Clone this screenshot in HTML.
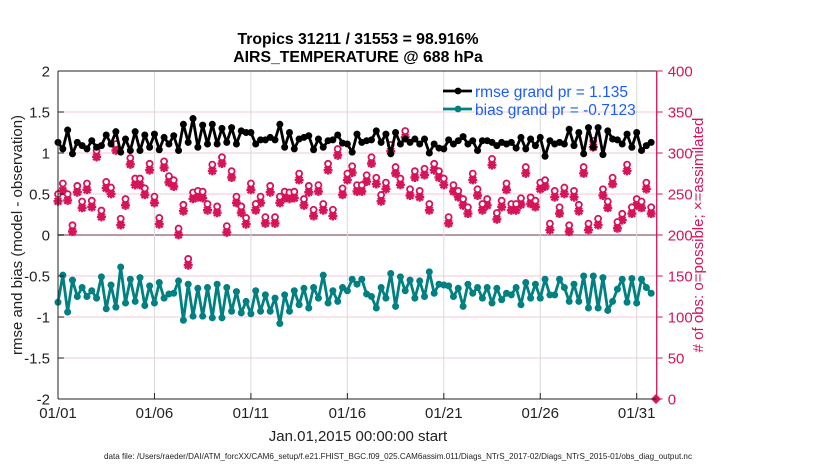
<!DOCTYPE html>
<html><head><meta charset="utf-8"><style>
html,body{margin:0;padding:0;background:#fff;}
svg{display:block;font-family:"Liberation Sans",sans-serif;}
</style></head><body>
<svg id="chart" width="830" height="470" viewBox="0 0 830 470">
<text x="358" y="44" text-anchor="middle" font-size="15.8" font-weight="bold">Tropics 31211 / 31553 = 98.916%</text>
<text x="358" y="62" text-anchor="middle" font-size="15.8" font-weight="bold">AIRS_TEMPERATURE @ 688 hPa</text>
<g id="grid"></g>
<g id="marks"></g>
<g id="axes"></g>
<text transform="translate(22,235) rotate(-90)" text-anchor="middle" font-size="15" fill="#222">rmse and bias (model - observation)</text>
<text transform="translate(703,235) rotate(-90)" text-anchor="middle" font-size="15" fill="#d6145a"># of obs: o=possible; ×=assimilated</text>
<text x="358" y="441" text-anchor="middle" font-size="15" fill="#222">Jan.01,2015 00:00:00 start</text>
<text x="398" y="459" text-anchor="middle" font-size="8.1" fill="#222">data file: /Users/raeder/DAI/ATM_forcXX/CAM6_setup/f.e21.FHIST_BGC.f09_025.CAM6assim.011/Diags_NTrS_2017-02/Diags_NTrS_2015-01/obs_diag_output.nc</text>
<g>
<line x1="443" y1="91" x2="472" y2="91" stroke="#000" stroke-width="2.8"/>
<circle cx="458" cy="91" r="3.4" fill="#000"/>
<text x="475" y="97" font-size="15.5" fill="#1a5cff">rmse grand pr = 1.135</text>
<line x1="443" y1="109" x2="472" y2="109" stroke="#008080" stroke-width="2.8"/>
<circle cx="458" cy="109" r="3.4" fill="#008080"/>
<text x="475" y="115" font-size="15.5" fill="#1a5cff">bias grand pr = -0.7123</text>
</g>
</svg>
<script>
const xTickLabels = ["01/01","01/06","01/11","01/16","01/21","01/26","01/31"];
const xTickDays = [0,5,10,15,20,25,30];
const leftTicks = [2,1.5,1,0.5,0,-0.5,-1,-1.5,-2];
const leftTickLabels = ["2","1.5","1","0.5","0","-0.5","-1","-1.5","-2"];
const rightTicks = [400,350,300,250,200,150,100,50,0];
const rmse = [1.13,1.05,1.28,0.99,1.13,1.09,1.05,1.15,1.07,1.09,1.22,1.11,1.26,1.01,1.17,1.03,1.26,1.03,1.22,1.07,1.23,1.04,1.19,1.11,1.21,1.03,1.35,1.13,1.42,1.07,1.34,1.11,
1.35,1.11,1.30,1.13,1.31,1.11,1.27,1.25,1.25,1.11,1.16,1.16,1.19,1.16,1.35,1.07,1.25,1.05,1.17,1.19,1.21,1.04,1.17,1.07,1.15,1.16,1.22,1.12,1.11,1.01,1.23,1.13,
1.15,1.16,1.27,1.13,1.23,0.99,1.25,1.11,1.17,1.13,1.17,1.11,1.17,1.00,1.11,1.06,1.05,1.16,1.11,1.15,1.20,1.11,1.15,1.03,1.15,1.15,1.13,1.09,1.13,1.11,
1.13,1.06,1.19,1.05,1.17,1.09,1.19,0.96,1.15,1.11,1.13,1.11,1.29,1.09,1.25,0.99,1.31,1.07,1.31,0.98,1.27,1.17,1.16,1.11,1.23,1.07,1.25,1.03,1.09,1.13];
const bias = [-0.82,-0.49,-0.94,-0.55,-0.75,-0.64,-0.75,-0.68,-0.77,-0.51,-0.90,-0.61,-0.88,-0.39,-0.83,-0.54,-0.81,-0.52,-0.86,-0.62,-0.83,-0.58,-0.77,-0.72,-0.71,-0.56,-1.04,-0.60,-0.99,-0.65,-0.99,-0.64,
-1.01,-0.60,-1.01,-0.64,-0.93,-0.69,-0.95,-0.81,-0.96,-0.68,-0.93,-0.73,-0.93,-0.77,-1.08,-0.73,-0.93,-0.68,-0.85,-0.65,-0.89,-0.64,-0.77,-0.49,-0.83,-0.68,-0.81,-0.64,-0.68,-0.54,-0.60,-0.54,
-0.72,-0.75,-0.89,-0.64,-0.77,-0.47,-0.87,-0.51,-0.68,-0.55,-0.77,-0.56,-0.75,-0.45,-0.71,-0.60,-0.61,-0.62,-0.75,-0.65,-0.87,-0.60,-0.71,-0.64,-0.77,-0.64,-0.83,-0.65,-0.79,-0.71,
-0.73,-0.64,-0.85,-0.58,-0.77,-0.60,-0.77,-0.54,-0.73,-0.73,-0.54,-0.64,-0.81,-0.60,-0.81,-0.50,-0.89,-0.50,-0.89,-0.52,-0.92,-0.81,-0.66,-0.54,-0.82,-0.53,-0.83,-0.54,-0.64,-0.71];
const obsPossible = [248,261,248,210,258,239,261,240,301,228,263,256,309,218,242,292,267,267,255,285,245,219,288,270,265,206,235,169,250,252,251,236,
284,233,293,209,276,245,233,219,261,236,245,220,258,220,245,251,250,251,273,242,258,229,259,236,285,229,303,255,273,282,259,259,
271,293,268,247,262,308,281,267,325,254,276,252,279,236,285,276,267,220,259,252,242,232,273,254,236,242,291,225,240,261,
236,236,243,281,244,240,262,265,212,252,232,256,210,252,235,281,212,313,218,254,239,268,214,224,284,232,242,239,262,232,0];
const obsAssim = [243,256,244,206,254,235,257,236,297,224,259,252,305,214,238,288,263,263,251,281,241,215,284,266,261,202,231,165,246,248,247,232,
280,229,289,205,272,241,229,215,257,232,241,216,254,216,241,247,246,247,269,238,254,225,255,232,281,225,299,251,269,278,255,255,
267,289,264,243,258,304,277,263,321,250,272,248,275,232,281,272,263,216,255,248,238,228,269,250,232,238,287,221,236,257,
232,232,239,277,240,236,258,261,208,248,228,252,206,248,231,277,208,309,214,250,235,264,210,220,280,228,238,235,258,228,0];

const NS="http://www.w3.org/2000/svg";
const X0=58, X1=656.7, DAYPX=(636.7-58)/30, Y0=71, Y1=399;
const xScale = d => X0 + d*DAYPX;
const yL = v => Y0 + (2 - v)/4*(Y1-Y0);
const yR = v => Y0 + (400 - v)/400*(Y1-Y0);
function mk(tag, attrs, parent){const e=document.createElementNS(NS,tag);for(const k in attrs)e.setAttribute(k,attrs[k]);parent.appendChild(e);return e;}
const gridG=document.getElementById('grid'), marksG=document.getElementById('marks'), axesG=document.getElementById('axes');

leftTicks.forEach(v=>{
  const y=yL(v);
  const l=mk('line',{x1:X0,x2:X1,y1:y,y2:y,stroke:v===0?'#b89aa6':'#f3c8d8','stroke-width':v===0?2:1},gridG);
  
  
});
xTickDays.forEach(d=>{
  const x=xScale(d);
  const l=mk('line',{x1:x,x2:x,y1:Y0,y2:Y1,stroke:'#d8d8d8','stroke-width':1},gridG);
  
  
});

const tx = i => xScale(i*0.25);
obsAssim.forEach((v,i)=>{
  const x=tx(i), y=yR(v)+1.5;
  const g=mk('g',{},marksG);
  
  
  if(v===0){
    const yy=yR(v);
    mk('path',{d:`M${x} ${yy-5}L${x+5} ${yy}L${x} ${yy+5}L${x-5} ${yy}Z`,fill:'#d6145a'},g);
    return;
  }
  const r=4.5, d=3.3;
  mk('path',{d:`M${x-r} ${y}H${x+r}M${x} ${y-r}V${y+r}M${x-d} ${y-d}L${x+d} ${y+d}M${x-d} ${y+d}L${x+d} ${y-d}`,stroke:'#d6145a','stroke-width':2.4},g);
});
obsPossible.forEach((v,i)=>{
  if(v===0) return;
  const c=mk('circle',{cx:tx(i),cy:yR(v)-1.5,r:3,fill:'#fff',stroke:'#d6145a','stroke-width':1.8},marksG);
  
  
});
function series(vals,color,name){
  const p=mk('polyline',{points:vals.map((v,i)=>tx(i)+','+yL(v)).join(' '),fill:'none',stroke:color,'stroke-width':2.8,'stroke-linejoin':'round'},marksG);
  
  
  vals.forEach((v,i)=>{
    const c=mk('circle',{cx:tx(i),cy:yL(v),r:3.5,fill:color},marksG);
    
    
  });
}
series(bias,'#008080','bias');
series(rmse,'#000000','rmse');

const topBorder=mk('line',{x1:X0,x2:X1,y1:Y0,y2:Y0,stroke:'#222','stroke-width':1},axesG);


const botAxis=mk('line',{x1:X0,x2:X1,y1:Y1,y2:Y1,stroke:'#222','stroke-width':1},axesG);


const leftAxis=mk('line',{x1:X0,x2:X0,y1:Y0,y2:Y1,stroke:'#222','stroke-width':1},axesG);


const rightAxis=mk('line',{x1:X1,x2:X1,y1:Y0,y2:Y1,stroke:'#d6145a','stroke-width':1.3},axesG);


leftTicks.forEach((v,i)=>{
  const y=yL(v);
  mk('line',{x1:X0,x2:X0+6,y1:y,y2:y,stroke:'#222'},axesG);
  const t=mk('text',{x:X0-8,y:y+5.5,'text-anchor':'end','font-size':15,fill:'#222'},axesG);
  t.textContent=leftTickLabels[i];
  
  
});
rightTicks.forEach(v=>{
  const y=yR(v);
  mk('line',{x1:X1,x2:X1+6,y1:y,y2:y,stroke:'#d6145a'},axesG);
  const t=mk('text',{x:X1+11,y:y+5.5,'font-size':15,fill:'#d6145a'},axesG);
  t.textContent=String(v);
  
  
});
xTickDays.forEach((d,i)=>{
  const x=xScale(d);
  mk('line',{x1:x,x2:x,y1:Y1,y2:Y1-6,stroke:'#222'},axesG);
  const t=mk('text',{x:x,y:Y1+19,'text-anchor':'middle','font-size':15,fill:'#222'},axesG);
  t.textContent=xTickLabels[i];
  
  
});
</script>
</body></html>
